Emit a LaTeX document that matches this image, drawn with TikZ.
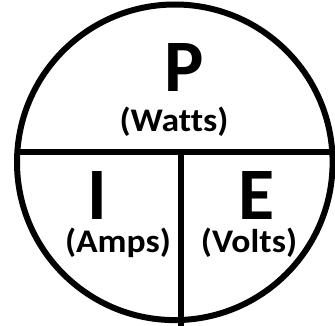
\documentclass[tikz,border=0pt]{standalone}
\usepackage{fontspec}
\setmainfont[Ligatures=NoCommon]{Carlito}
\newfontfamily\unitfont[Ligatures=NoCommon,FakeStretch=1.08]{Carlito}
\begin{document}
\begin{tikzpicture}[x=1pt,y=-1pt,
  edge/.style={line width=6pt,black},
  big/.style={font=\fontsize{74}{74}\selectfont\bfseries,anchor=base,inner sep=0pt,text depth=0pt},
  unit/.style={font=\unitfont\fontsize{33}{33}\selectfont\bfseries,anchor=base,inner sep=0pt}]
\useasboundingbox (0,0) rectangle (335,326);
\coordinate (c) at (174.8,162.3);
\draw[edge] (c) circle[radius=157.8];
\coordinate (hl) at (17.3,152);
\coordinate (hr) at (332.3,152);
\coordinate (vt) at (180.5,152);
\coordinate (vb) at (180.5,330);
\draw[edge] (hl) -- (hr);
\draw[edge] (vt) -- (vb);
\node[big] (p) at (184,92) {P};
\node[unit] (watts) at (174,132) {(Watts)};
\node[big] (i) at (97,219) {I};
\node[unit] (amps) at (118,252) {(Amps)};
\node[big] (e) at (257,220) {E};
\node[unit] (volts) at (249,252) {(Volts)};
\end{tikzpicture}
\end{document}
